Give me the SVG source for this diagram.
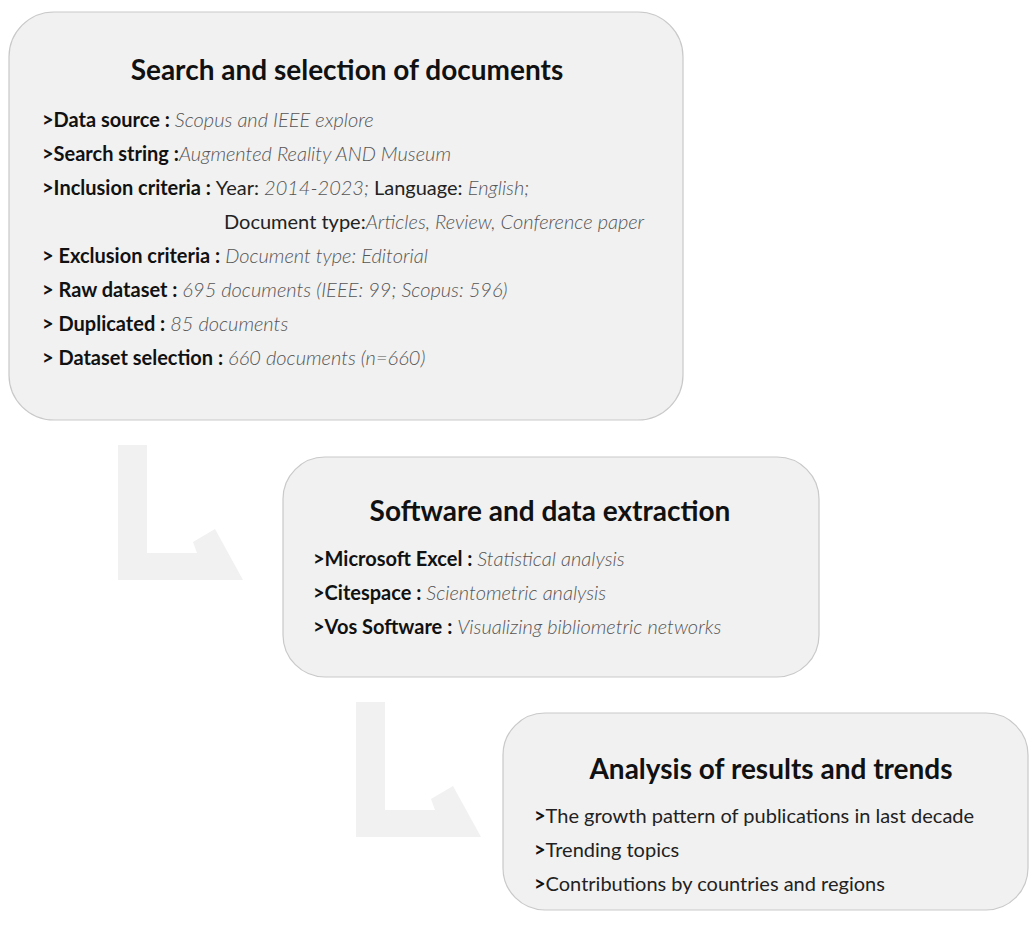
<svg xmlns="http://www.w3.org/2000/svg" width="1030" height="927" viewBox="0 0 1030 927">
<style>
.box{fill:#f1f1f1;stroke:#c9c9c9;stroke-width:1.2}
.arrow{fill:#f1f1f1;stroke:none}
.title{font-family:Lato,"Open Sans",sans-serif;font-weight:700;font-size:28px;fill:#111;text-anchor:middle}
.t{font-family:Lato,"Open Sans",sans-serif;font-size:20px;fill:#111}
.b{font-weight:700}
.i{font-style:italic;font-weight:300;fill:#555}
.r{font-weight:400;fill:#222}
</style>
<rect width="1030" height="927" fill="#ffffff"/>
<g id="connectors">
<polygon class="arrow" points="118,445 147,445 147,553 197,553 193,542 215,529 243,580 118,580"/>
<polygon class="arrow" points="356,702 385,702 385,810 435,810 431,799 453,786 481,837 356,837"/>
</g>
<g id="node-search">
<rect class="box" x="9" y="12" width="674" height="408" rx="45" ry="45"/>
<text class="title" x="347" y="80">Search and selection of documents</text>
<text class="t" x="42" y="127"><tspan class="b">&gt;Data source : </tspan><tspan class="i">Scopus and IEEE explore</tspan></text>
<text class="t" x="42" y="161"><tspan class="b">&gt;Search string :</tspan><tspan class="i">Augmented Reality AND Museum</tspan></text>
<text class="t" x="42" y="195"><tspan class="b">&gt;Inclusion criteria : </tspan><tspan class="r">Year: </tspan><tspan class="i">2014-2023; </tspan><tspan class="r">Language: </tspan><tspan class="i">English;</tspan></text>
<text class="t" x="224" y="229"><tspan class="r">Document type:</tspan><tspan class="i">Articles, Review, Conference paper</tspan></text>
<text class="t" x="42" y="263"><tspan class="b">&gt; Exclusion criteria : </tspan><tspan class="i">Document type: Editorial</tspan></text>
<text class="t" x="42" y="297"><tspan class="b">&gt; Raw dataset : </tspan><tspan class="i">695 documents (IEEE: 99; Scopus: 596)</tspan></text>
<text class="t" x="42" y="331"><tspan class="b">&gt; Duplicated : </tspan><tspan class="i">85 documents</tspan></text>
<text class="t" x="42" y="365"><tspan class="b">&gt; Dataset selection : </tspan><tspan class="i">660 documents (n=660)</tspan></text>
</g>
<g id="node-software">
<rect class="box" x="283" y="457" width="536" height="220" rx="42" ry="42"/>
<text class="title" x="550" y="521">Software and data extraction</text>
<text class="t" x="313" y="566"><tspan class="b">&gt;Microsoft Excel : </tspan><tspan class="i">Statistical analysis</tspan></text>
<text class="t" x="313" y="600"><tspan class="b">&gt;Citespace : </tspan><tspan class="i">Scientometric analysis</tspan></text>
<text class="t" x="313" y="634"><tspan class="b">&gt;Vos Software : </tspan><tspan class="i">Visualizing bibliometric networks</tspan></text>
</g>
<g id="node-analysis">
<rect class="box" x="503" y="713" width="525" height="197" rx="42" ry="42"/>
<text class="title" x="771" y="779">Analysis of results and trends</text>
<text class="t" x="534" y="823"><tspan class="b">&gt;</tspan><tspan class="r">The growth pattern of publications in last decade</tspan></text>
<text class="t" x="534" y="857"><tspan class="b">&gt;</tspan><tspan class="r">Trending topics</tspan></text>
<text class="t" x="534" y="891"><tspan class="b">&gt;</tspan><tspan class="r">Contributions by countries and regions</tspan></text>
</g>
</svg>
